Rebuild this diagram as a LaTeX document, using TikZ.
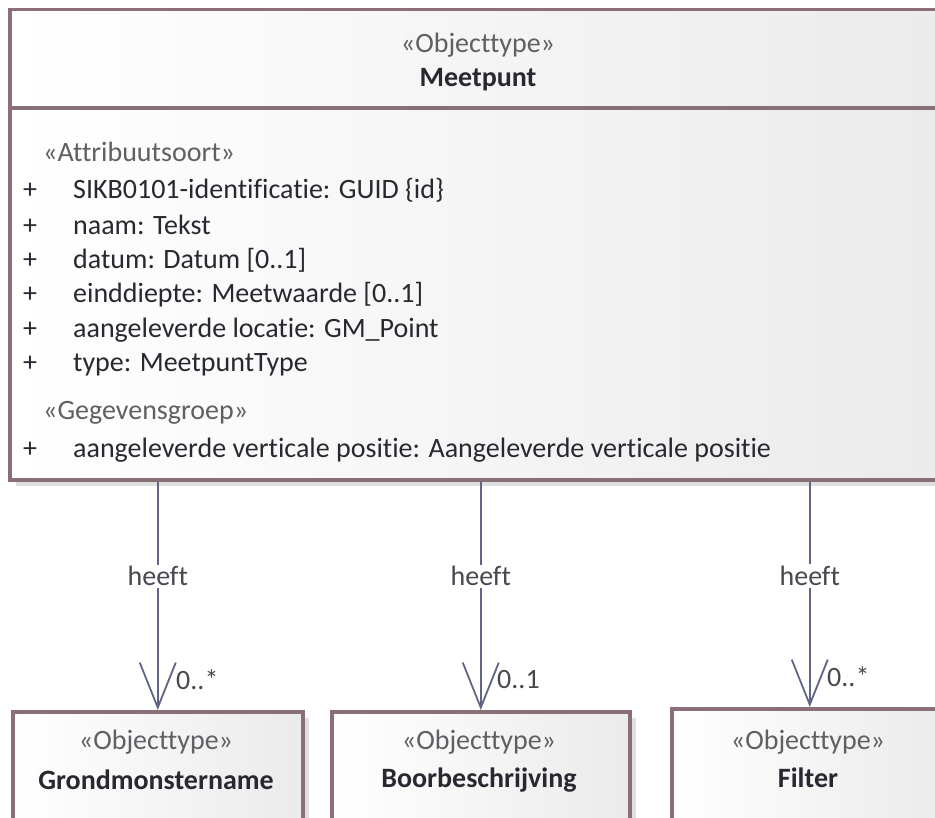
\documentclass[tikz,border=0pt]{standalone}
\usepackage{fontspec}
\setmainfont{Carlito}[Ligatures=NoCommon]
\usetikzlibrary{arrows.meta,positioning,shadows}

\definecolor{umlborder}{RGB}{138,112,118}
\definecolor{umlline}{RGB}{96,100,135}
\definecolor{umltext}{RGB}{40,40,48}
\definecolor{umlstereo}{RGB}{95,95,100}

\begin{document}
\begin{tikzpicture}[x=1pt,y=-1pt,
	class_box/.style={draw=umlborder,line width=3.5pt,left color=white,right color=black!8,inner sep=0pt,anchor=north west,drop shadow={shadow xshift=6pt,shadow yshift=-6pt,fill=black!35,opacity=0.35}},
	stereo_text/.style={text=umlstereo,font=\fontsize{28}{34}\selectfont,inner sep=0pt},
	name_text/.style={text=umltext,font=\fontsize{28}{34}\selectfont\bfseries,inner sep=0pt},
	attr_text/.style={text=umltext,font=\fontsize{28}{34}\selectfont,inner sep=0pt,anchor=west},
	assoc/.style={draw=umlline,line width=1.8pt,-{Straight Barb[length=45pt,width=36pt,line width=1.8pt]}},
	heeft_text/.style={text=umltext!85,font=\fontsize{28}{34}\selectfont,fill=white,inner sep=2pt},
	mult_text/.style={text=umltext!85,font=\fontsize{28}{34}\selectfont,inner sep=0pt,anchor=west}]
	
	\useasboundingbox (0,0) rectangle (935,818);
	\clip (0,0) rectangle (935,818);
	\fill[white] (0,0) rectangle (935,818);
	
	% Meetpunt
	\node[class_box,minimum width=940,minimum height=470] (meetpunt) at (8,8) {};
	\draw[umlborder,line width=3.5pt] (8,108) -- (948,108);
	\node[stereo_text] (mp_st) at (478,45) {«Objecttype»};
	\node[name_text] (mp_nm) at (478,80) {Meetpunt};
	
	\node[attr_text,text=umlstereo] (st_attr) at (43,152) {«Attribuutsoort»};
	\node[attr_text] (a1) at (23,190) {\makebox[50pt][l]{+}SIKB0101-identificatie: GUID \{id\}};
	\node[attr_text] (a2) at (23,225) {\makebox[50pt][l]{+}naam: Tekst};
	\node[attr_text] (a3) at (23,260) {\makebox[50pt][l]{+}datum: Datum [0..1]};
	\node[attr_text] (a4) at (23,295) {\makebox[50pt][l]{+}einddiepte: Meetwaarde [0..1]};
	\node[attr_text] (a5) at (23,330) {\makebox[50pt][l]{+}aangeleverde locatie: GM\_Point};
	\node[attr_text] (a6) at (23,365) {\makebox[50pt][l]{+}type: MeetpuntType};
	\node[attr_text,text=umlstereo] (st_groep) at (43,413) {«Gegevensgroep»};
	\node[attr_text] (g1) at (23,450) {\makebox[50pt][l]{+}aangeleverde verticale positie: Aangeleverde verticale positie};
	
	% gerelateerde objecttypen
	\node[class_box,minimum width=290,minimum height=130] (grond) at (11,710) {};
	\node[stereo_text] (grond_st) at (156,742) {«Objecttype»};
	\node[name_text] (grond_nm) at (156,780) {Grondmonstername};
	
	\node[class_box,minimum width=298,minimum height=130] (boor) at (330,710) {};
	\node[stereo_text] (boor_st) at (479,742) {«Objecttype»};
	\node[name_text] (boor_nm) at (479,780) {Boorbeschrijving};
	
	\node[class_box,minimum width=276,minimum height=130] (filter) at (670,707) {};
	\node[stereo_text] (filter_st) at (808,742) {«Objecttype»};
	\node[name_text] (filter_nm) at (808,778) {Filter};
	
	\draw[assoc] (meetpunt.south -| grond.north) -- node[heeft_text,pos=0.415] (h1) {heeft} (grond.north);
	\draw[assoc] (meetpunt.south -| boor.north) -- node[heeft_text,pos=0.415] (h2) {heeft} (boor.north);
	\draw[assoc] (meetpunt.south -| filter.north) -- node[heeft_text,pos=0.42] (h3) {heeft} (filter.north);
	
	\node[mult_text] (m1) at (176,680) {0..*};
	\node[mult_text] (m2) at (497,680) {0..1};
	\node[mult_text] (m3) at (827,677) {0..*};
\end{tikzpicture}
\end{document}
